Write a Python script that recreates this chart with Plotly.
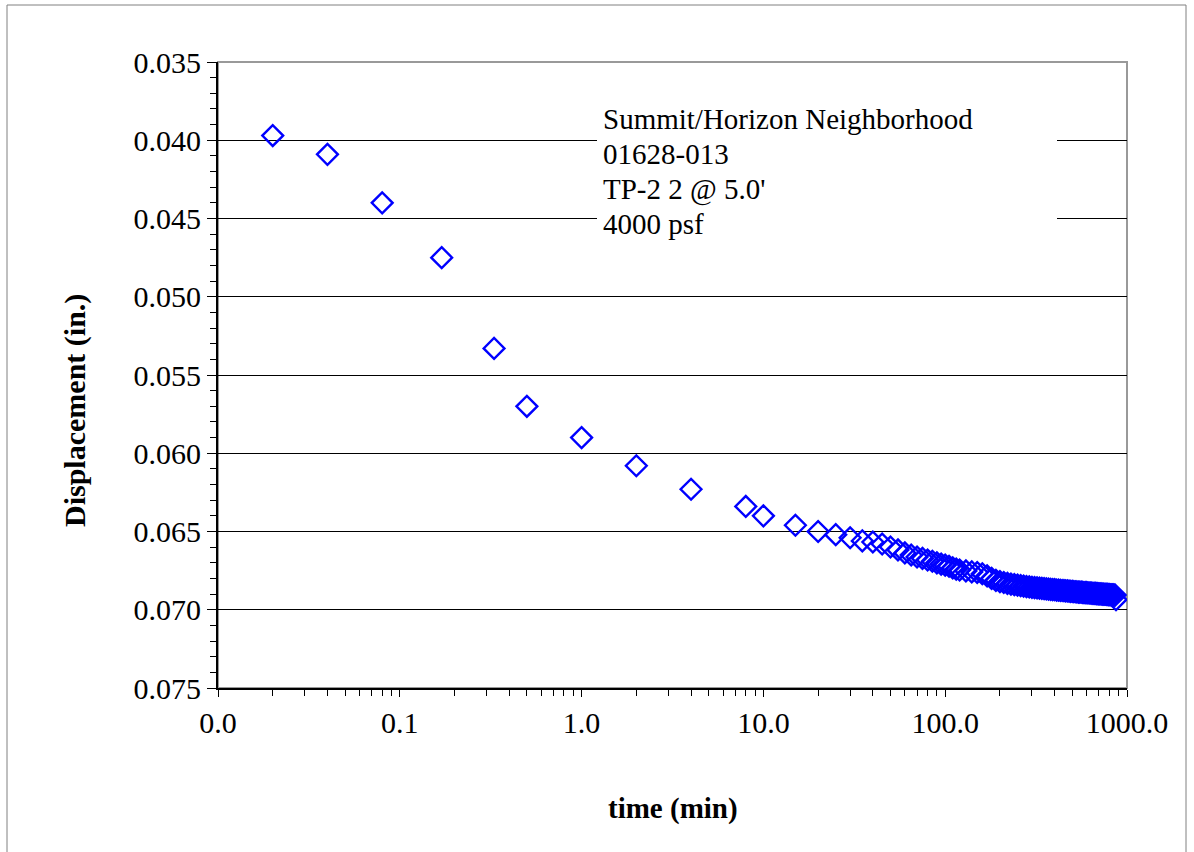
import plotly.graph_objects as go

# ---- data ----
time_min = [0.02, 0.04, 0.08, 0.17, 0.33, 0.5, 1, 2, 4, 8, 10, 15, 20, 25, 30, 35,
            40, 45, 50, 55, 60, 65, 70, 75, 80, 85, 90, 95, 100, 105, 110, 115, 120,
            130, 140, 150, 160, 170, 180, 190, 200, 210, 220, 230, 240, 250, 260, 270,
            280, 290, 300, 310, 320, 330, 340, 350, 360, 370, 380, 390, 400, 410, 420,
            430, 440, 450, 460, 470, 480, 490, 500, 510, 520, 530, 540, 550, 560, 570,
            580, 590, 600, 610, 620, 630, 640, 650, 660, 670, 680, 690, 700, 710, 720,
            730, 740, 750, 760, 770, 780, 790, 800, 810, 820, 830, 840, 850, 860, 870]

displacement = [0.0397, 0.0409, 0.0440, 0.0475, 0.0533, 0.0570, 0.0590, 0.0608, 0.0623,
                0.0634, 0.0640, 0.0646, 0.0650, 0.0652, 0.0654, 0.0656,
                0.06567, 0.06580, 0.06599, 0.06618, 0.06637, 0.06650, 0.06663, 0.06672,
                0.06682, 0.06690, 0.06700, 0.06708, 0.06715, 0.06722, 0.06733, 0.06740,
                0.06746,
                0.06752, 0.06758, 0.06762, 0.06770, 0.06783, 0.06800, 0.06812, 0.06820,
                0.06826, 0.06832, 0.06836, 0.06840, 0.06843, 0.06846, 0.06849, 0.06852,
                0.06854, 0.06857, 0.06858, 0.06860, 0.06862, 0.06864, 0.06865, 0.06867,
                0.06868, 0.06870, 0.06871, 0.06872, 0.06874, 0.06875, 0.06876, 0.06877,
                0.06878, 0.06879, 0.06880, 0.06881, 0.06882, 0.06883, 0.06884, 0.06885,
                0.06886, 0.06887, 0.06888, 0.06888, 0.06889, 0.06890, 0.06891, 0.06891,
                0.06892, 0.06893, 0.06893, 0.06894, 0.06895, 0.06895, 0.06896, 0.06897,
                0.06897, 0.06898, 0.06898, 0.06899, 0.06900, 0.06900, 0.06901, 0.06901,
                0.06902, 0.06902, 0.06903, 0.06903, 0.06904, 0.06904, 0.06905, 0.06905,
                0.06906, 0.06906, 0.06935]

x_tickvals = [0.01, 0.1, 1, 10, 100, 1000]
x_ticktext = ["0.0", "0.1", "1.0", "10.0", "100.0", "1000.0"]
y_tickvals = [0.035, 0.040, 0.045, 0.050, 0.055, 0.060, 0.065, 0.070, 0.075]
y_ticktext = ["0.035", "0.040", "0.045", "0.050", "0.055", "0.060", "0.065", "0.070", "0.075"]

info_lines = ["Summit/Horizon Neighborhood", "01628-013", "TP-2 2 @ 5.0'", "4000 psf"]

FONT = "Liberation Serif, Times New Roman, serif"

# pixel -> paper helpers (plot area: x 218..1127, y 62..688)
def px(x):
    return (x - 218) / 909

def py(y):
    return (688 - y) / 626

fig = go.Figure()
fig.add_trace(go.Scatter(
    x=time_min, y=displacement, mode="markers",
    marker=dict(symbol="diamond-open", size=16, color="#0000FF",
                line=dict(width=2.4, color="#0000FF")),
    showlegend=False,
))

fig.update_layout(
    width=1194, height=852,
    margin=dict(l=218, r=67, t=62, b=164),
    paper_bgcolor="white", plot_bgcolor="white",
    font=dict(family=FONT, size=30, color="black"),
    xaxis=dict(type="log", range=[-2, 3], tickvals=x_tickvals, ticktext=x_ticktext,
               ticks="outside", ticklen=7, tickcolor="black", showgrid=False,
               showline=True, linecolor="black", linewidth=2, zeroline=False,
               tickfont=dict(size=30),
               minor=dict(ticks="outside", ticklen=6, tickcolor="black", dtick="D1",
                          showgrid=False)),
    yaxis=dict(range=[0.075, 0.035], tickvals=y_tickvals, ticktext=y_ticktext,
               ticks="outside", ticklen=9, tickcolor="black",
               showgrid=True, gridcolor="black", gridwidth=1,
               showline=True, linecolor="black", linewidth=2, zeroline=False,
               tickfont=dict(size=30),
               minor=dict(ticks="outside", ticklen=6, tickcolor="black", dtick=0.001,
                          showgrid=False)),
)

# plot-area frame (grey) and outer chart border
fig.add_shape(type="rect", xref="paper", yref="paper", x0=0, x1=1, y0=0, y1=1,
              line=dict(color="#999999", width=2), layer="below")
fig.add_shape(type="rect", xref="paper", yref="paper",
              x0=px(7), x1=px(1186), y0=py(870), y1=py(5),
              line=dict(color="#808080", width=1))

# axis titles
fig.add_annotation(text="<b>Displacement (in.)</b>", xref="paper", yref="paper",
                   x=px(75), y=py(411), textangle=-90,
                   xanchor="center", yanchor="middle", showarrow=False,
                   font=dict(size=30))
fig.add_annotation(text="<b>time (min)</b>", xref="paper", yref="paper",
                   x=px(673), y=py(808),
                   xanchor="center", yanchor="middle", showarrow=False,
                   font=dict(size=29))

# info text box: white background hiding the gridlines, one annotation per line
fig.add_shape(type="rect", xref="paper", yref="paper",
              x0=px(597), x1=px(1057), y0=py(243), y1=py(98),
              fillcolor="white", line=dict(width=0), layer="above")
for i, line in enumerate(info_lines):
    fig.add_annotation(text=line, xref="paper", yref="paper",
                       x=px(601), y=py(119 + 35 * i),
                       xanchor="left", yanchor="middle", align="left",
                       showarrow=False, font=dict(size=29))

fig.write_html("out.html", config={"displayModeBar": False},
               post_script="document.body.style.margin='0px';")
